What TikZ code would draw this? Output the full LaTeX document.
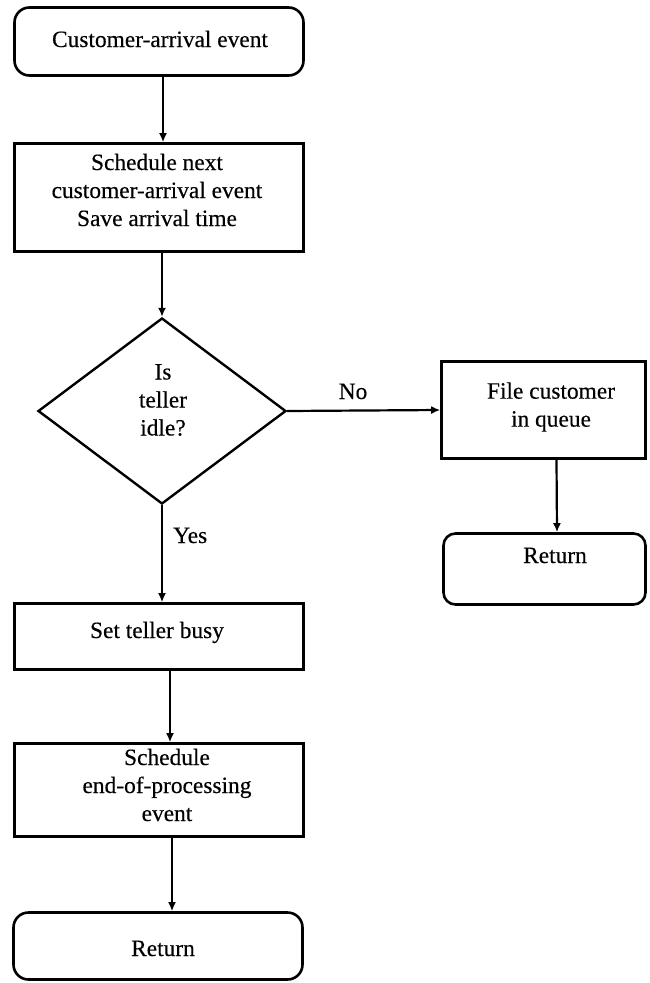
\documentclass[tikz,border=0pt]{standalone}
\usepackage{fontspec}
\setmainfont[FakeBold=0.3]{Liberation Serif}
\usetikzlibrary{shapes.geometric,arrows.meta}
\begin{document}
\begin{tikzpicture}[x=1pt,y=-1pt,
  lbl/.style={font=\fontsize{23.4}{28}\selectfont, align=center, inner sep=0pt},
  procbox/.style={draw, line width=2.6pt, rectangle, inner sep=0pt},
  termbox/.style={draw, line width=2.6pt, rectangle, rounded corners=15pt, inner sep=0pt},
  decbox/.style={draw, line width=2.4pt, diamond, inner sep=0pt},
  flow/.style={line width=2.2pt, -{Latex[length=9pt,width=8pt]}},
]
\useasboundingbox (0,0) rectangle (649,983);

% boxes
\node[termbox, minimum width=289pt, minimum height=68pt]  (start) at (159,41.5) {};
\node[procbox, minimum width=289pt, minimum height=108pt] (sched) at (159,197.5) {};
\node[decbox,  minimum width=248pt, minimum height=186pt] (idle)  at (162,411) {};
\node[procbox, minimum width=204pt, minimum height=97pt]  (queue) at (543.5,410) {};
\node[termbox, rounded corners=12pt, minimum width=202pt, minimum height=71pt] (retA) at (544.5,569) {};
\node[procbox, minimum width=289pt, minimum height=66pt]  (busy)  at (159,636.5) {};
\node[procbox, minimum width=289pt, minimum height=93pt]  (endp)  at (159,790) {};
\node[termbox, minimum width=289pt, minimum height=67pt]  (retB)  at (158,946) {};

% texts
\node[lbl, anchor=base] (tStart) at (160,47) {Customer-arrival event};
\node[lbl] (tSched) at (157,190) {Schedule next\\customer-arrival event\\Save arrival time};
\node[lbl] (tIdle) at (163,400) {Is\\teller\\idle?};
\node[lbl] (tQueue) at (551,407) {File customer\\in queue};
\node[lbl, anchor=base] (tRetA) at (555,563) {Return};
\node[lbl, anchor=base] (tBusy) at (157,638) {Set teller busy};
\node[lbl] (tEndp) at (167,785) {Schedule\\end-of-processing\\event};
\node[lbl, anchor=base] (tRetB) at (163,956) {Return};
\node[lbl, anchor=base] (tNo) at (353,399) {No};
\node[lbl, anchor=base west] (tYes) at (173,543) {Yes};

% connectors
\draw[flow] ([xshift=4pt]start.south) -- ([xshift=4pt]sched.north);
\draw[flow] ([xshift=3pt]sched.south) -- (idle.north);
\draw[flow] (idle.east) -- (queue.west);
\draw[flow] ([xshift=13pt]queue.south) -- ([xshift=12.5pt]retA.north);
\draw[flow] (idle.south) -- ([xshift=3pt]busy.north);
\draw[flow] ([xshift=11pt]busy.south) -- ([xshift=11pt]endp.north);
\draw[flow] ([xshift=13pt]endp.south) -- ([xshift=14pt]retB.north);
\end{tikzpicture}
\end{document}
